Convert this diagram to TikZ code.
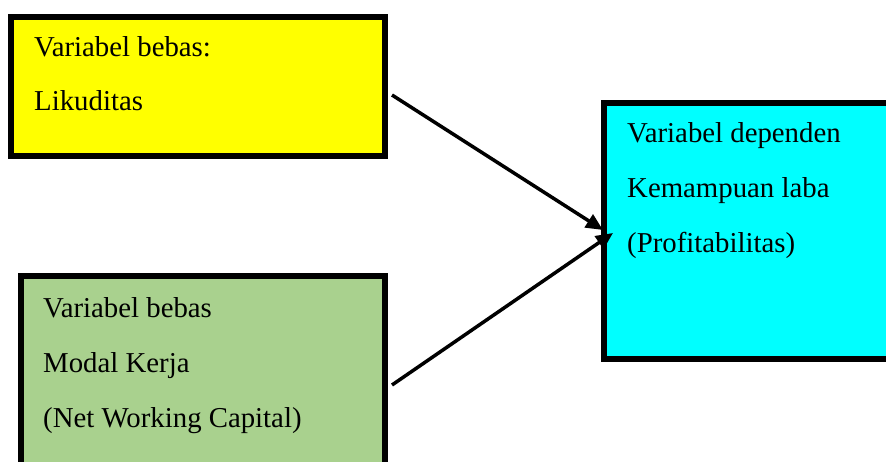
\documentclass[tikz,border=0pt]{standalone}
\usepackage{fontspec}
\setmainfont{Liberation Serif}
\usetikzlibrary{arrows.meta}
\definecolor{boxyellow}{HTML}{FFFF00}
\definecolor{boxgreen}{HTML}{A9D18E}
\definecolor{boxcyan}{HTML}{00FFFF}
\tikzset{
  box/.style={draw=black, line width=6pt, rectangle, inner sep=0pt, outer sep=0pt},
  lbl/.style={anchor=base west, inner sep=0pt, font=\fontsize{28.8}{34}\selectfont},
  arr/.style={line width=3.5pt, -{Triangle[length=17pt,width=15pt]}}
}
\begin{document}
\begin{tikzpicture}[x=1pt,y=1pt]
\useasboundingbox (0,0) rectangle (886,461);
\begin{scope}
\clip (0,0) rectangle (886,461);
\node[box, fill=boxyellow, minimum width=374pt, minimum height=139pt] (yellow) at (198,374.5) {};
\node[box, fill=boxgreen, minimum width=364pt, minimum height=194pt] (green) at (203,88) {};
\node[box, fill=boxcyan, minimum width=291pt, minimum height=256pt] (cyan) at (749.5,230) {};
\end{scope}
\node[lbl] (y1) at (34,404) {Variabel bebas:};
\node[lbl] (y2) at (34,350) {Likuditas};
\node[lbl] (g1) at (43,144) {Variabel bebas};
\node[lbl] (g2) at (43,89) {Modal Kerja};
\node[lbl] (g3) at (43,34) {(Net Working Capital)};
\node[lbl] (c1) at (627,318) {Variabel dependen};
\node[lbl] (c2) at (627,263) {Kemampuan laba};
\node[lbl] (c3) at (627,208) {(Profitabilitas)};
\coordinate (s1) at (392,366);
\coordinate (s2) at (392,76);
\coordinate (t1) at (603,231);
\coordinate (t2) at (613,228);
\draw[arr] (s1) -- (t1);
\draw[arr] (s2) -- (t2);
\end{tikzpicture}
\end{document}
